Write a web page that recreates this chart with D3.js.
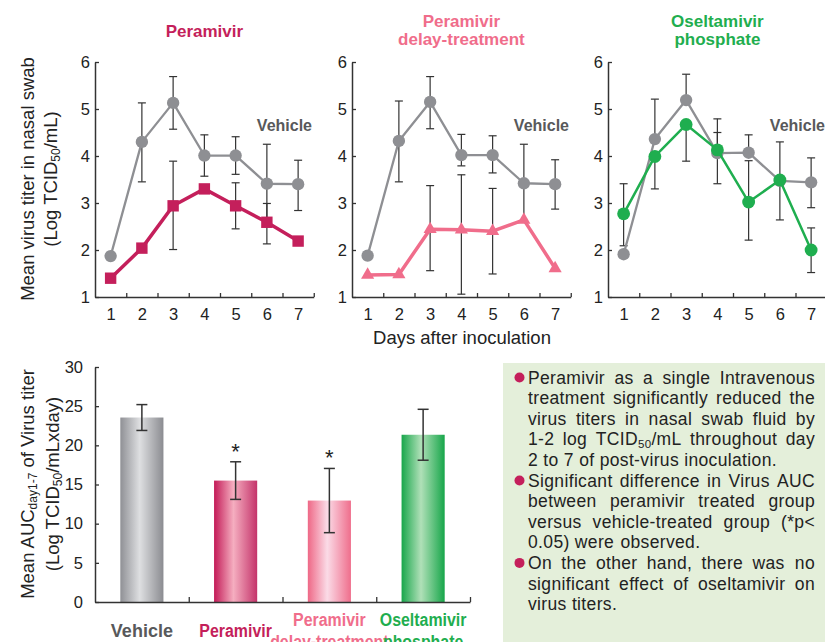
<!DOCTYPE html>
<html><head><meta charset="utf-8">
<script src="https://cdn.jsdelivr.net/npm/d3@7"></script>
<style>
body{margin:0;background:#fff;}
svg{display:block;font-family:"Liberation Sans",Arial,sans-serif;}
</style></head>
<body>
<svg id="c" width="825" height="642"></svg>
<script>
// ---------- DATA ----------
const days = [1, 2, 3, 4, 5, 6, 7];
const yTicks = [1, 2, 3, 4, 5, 6];

// Panel 1 : Peramivir
const vehicle1   = [1.87, 4.30, 5.13, 4.01, 4.01, 3.41, 3.40];
const vehicle1Lo = [null, 3.45, 4.57, 3.57, 3.61, 2.59, 2.84];
const vehicle1Hi = [null, 5.13, 5.69, 4.45, 4.41, 4.25, 3.91];
const peramivir   = [1.40, 2.04, 2.94, 3.30, 2.94, 2.59, 2.19];
const peramivirLo = [null, null, 2.01, null, 2.45, 2.13, null];
const peramivirHi = [null, null, 3.89, null, 3.43, 2.99, null];

// Panel 2 : Peramivir delay-treatment
const vehicle2   = [1.88, 4.32, 5.15, 4.02, 4.02, 3.42, 3.40];
const vehicle2Lo = [null, 3.45, 4.58, 3.79, 3.64, 2.62, 2.87];
const vehicle2Hi = [null, 5.17, 5.69, 4.46, 4.43, 4.25, 3.92];
const delay   = [1.47, 1.48, 2.44, 2.43, 2.40, 2.64, 1.61];
const delayLo = [null, null, 1.56, 1.06, 1.49, null, null];
const delayHi = [null, null, 3.37, 3.60, 3.31, null, null];

// Panel 3 : Oseltamivir phosphate
const vehicle3   = [1.91, 4.36, 5.19, 4.06, 4.07, 3.47, 3.44];
const vehicle3Lo = [null, null, null, null, null, 2.64, 2.90];
const vehicle3Hi = [null, 5.21, 5.74, 4.50, 4.45, 4.30, 3.96];
const oseltamivir   = [2.77, 3.99, 4.67, 4.13, 3.02, 3.49, 2.00];
const oseltamivirLo = [2.09, 3.30, 3.89, 3.41, 2.21, null, 1.52];
const oseltamivirHi = [3.41, null, null, 4.79, 3.90, null, 2.47];

// Bar chart : AUC day1-7
const barCategories = ["Vehicle", "Peramivir", "Peramivir delay-treatment", "Oseltamivir phosphate"];
const barValues = [23.55, 15.5, 12.95, 21.35];
const barErr    = [1.65, 2.4, 4.1, 3.25];
const barSignif = [false, true, true, false];
const barTicks  = [0, 5, 10, 15, 20, 25, 30];

// ---------- STYLE ----------
const C = {
  gray: "#8e8f93", crimson: "#c41f5b", pink: "#f06d8b", green: "#1fae4f",
  axis: "#333", err: "#333", vehLabel: "#58595b"
};

const svg = d3.select("#c");
const defs = svg.append("defs");

// ---------- LINE PANELS ----------
const yLine = d3.scaleLinear().domain([1, 6]).range([297, 62]);

function styleAxis(a, fs) {
  a.attr("font-size", fs).attr("font-family", "Liberation Sans, Arial, sans-serif");
  a.selectAll("path.domain").attr("stroke", C.axis).attr("stroke-width", 1.5);
  a.selectAll(".tick line").attr("stroke", C.axis).attr("stroke-width", 1.3);
  a.selectAll("text").attr("fill", "#222").style("font-size", fs + "px");
}

function drawPanel(ax, titleLines, titleColor, series) {
  const x = d3.scaleLinear().domain([0.5, 7.5]).range([ax, ax + 218.75]);
  const g = svg.append("g");

  // axes
  const ya = g.append("g").attr("transform", `translate(${ax},0)`)
    .call(d3.axisLeft(yLine).tickValues(yTicks).tickSizeInner(-4).tickSizeOuter(0).tickPadding(5).tickFormat(d3.format("d")));
  const xa = g.append("g").attr("transform", `translate(0,297)`)
    .call(d3.axisBottom(x).tickValues([1.5, 2.5, 3.5, 4.5, 5.5, 6.5, 7.5]).tickSizeInner(-4).tickSizeOuter(0).tickFormat(""));
  const xl = g.append("g").attr("transform", `translate(0,297)`)
    .call(d3.axisBottom(x).tickValues(days).tickSize(0).tickPadding(11).tickFormat(d3.format("d")));
  xl.select(".domain").remove();
  [ya, xa, xl].forEach(a => styleAxis(a, 16.5));

  // title
  const cx = ax + 109.4;
  const tb = titleLines.length === 1 ? [37] : [26.5, 44.5];
  titleLines.forEach((t, i) => {
    g.append("text").attr("x", cx).attr("y", tb[i]).attr("text-anchor", "middle")
      .attr("font-weight", "bold").attr("font-size", 17).attr("fill", titleColor).text(t);
  });

  // Vehicle label
  g.append("text").attr("x", ax + 217).attr("y", 131).attr("text-anchor", "end")
    .attr("font-weight", "bold").attr("font-size", 16).attr("fill", C.vehLabel).text("Vehicle");

  // error bars (drawn first)
  series.forEach(s => {
    s.values.forEach((v, i) => {
      [s.lo[i], s.hi[i]].forEach(b => {
        if (b == null) return;
        g.append("line").attr("x1", x(days[i])).attr("x2", x(days[i]))
          .attr("y1", yLine(v)).attr("y2", yLine(b)).attr("stroke", C.err).attr("stroke-width", 1.2);
        g.append("line").attr("x1", x(days[i]) - 4).attr("x2", x(days[i]) + 4)
          .attr("y1", yLine(b)).attr("y2", yLine(b)).attr("stroke", C.err).attr("stroke-width", 1.2);
      });
    });
  });

  // lines + markers
  series.forEach(s => {
    const pts = s.values.map((v, i) => [x(days[i]), yLine(v)]);
    g.append("path").attr("d", d3.line()(pts)).attr("fill", "none")
      .attr("stroke", s.color).attr("stroke-width", s.width).attr("stroke-linejoin", "round");
    const sym = d3.symbol().type(s.shape).size(s.size);
    g.selectAll(null).data(pts).enter().append("path")
      .attr("transform", d => `translate(${d[0]},${d[1]})`)
      .attr("d", sym).attr("fill", s.color);
  });
}

drawPanel(95, ["Peramivir"], C.crimson, [
  {values: vehicle1, lo: vehicle1Lo, hi: vehicle1Hi, color: C.gray, width: 2.3, shape: d3.symbolCircle, size: 120},
  {values: peramivir, lo: peramivirLo, hi: peramivirHi, color: C.crimson, width: 3.5, shape: d3.symbolSquare, size: 130}
]);
drawPanel(352, ["Peramivir", "delay-treatment"], C.pink, [
  {values: vehicle2, lo: vehicle2Lo, hi: vehicle2Hi, color: C.gray, width: 2.3, shape: d3.symbolCircle, size: 120},
  {values: delay, lo: delayLo, hi: delayHi, color: C.pink, width: 3.5, shape: d3.symbolTriangle, size: 75}
]);
drawPanel(608, ["Oseltamivir", "phosphate"], C.green, [
  {values: vehicle3, lo: vehicle3Lo, hi: vehicle3Hi, color: C.gray, width: 2.3, shape: d3.symbolCircle, size: 120},
  {values: oseltamivir, lo: oseltamivirLo, hi: oseltamivirHi, color: C.green, width: 2.5, shape: d3.symbolCircle, size: 130}
]);

// Line chart axis titles
svg.append("text").attr("transform", "translate(34,179) rotate(-90)")
  .attr("text-anchor", "middle").attr("font-size", 18.5).attr("fill", "#222")
  .text("Mean virus titer in nasal swab");
const yl2 = svg.append("text").attr("transform", "translate(57,179) rotate(-90)")
  .attr("text-anchor", "middle").attr("font-size", 18.5).attr("fill", "#222");
yl2.append("tspan").text("(Log TCID");
yl2.append("tspan").attr("font-size", 12).attr("dy", 3).text("50");
yl2.append("tspan").attr("dy", -3).text("/mL)");
svg.append("text").attr("x", 462).attr("y", 344).attr("text-anchor", "middle")
  .attr("font-size", 18.5).attr("fill", "#222").text("Days after inoculation");

// ---------- BAR CHART ----------
const xb = d3.scaleBand().domain(barCategories).range([95, 470]).paddingInner(0.54).paddingOuter(0.27);
const yb = d3.scaleLinear().domain([0, 30]).range([602, 367]);
const barColors = [
  ["#8f9095", "#dedfe1", "#8b8c91"],
  ["#c31a57", "#f5aec0", "#c4336a"],
  ["#ee6886", "#fbdbe7", "#ef6e8c"],
  ["#18a64b", "#b0e0b8", "#17a64a"]
];
const labelColors = ["#58595b", C.crimson, C.pink, C.green];
barColors.forEach((c, i) => {
  const lg = defs.append("linearGradient").attr("id", "bg" + i).attr("x1", 0).attr("x2", 1).attr("y1", 0).attr("y2", 0);
  lg.append("stop").attr("offset", "0%").attr("stop-color", c[0]);
  lg.append("stop").attr("offset", "45%").attr("stop-color", c[1]);
  lg.append("stop").attr("offset", "100%").attr("stop-color", c[2]);
});

const bg = svg.append("g");
bg.selectAll("rect.bar").data(barCategories).enter().append("rect")
  .attr("x", d => xb(d)).attr("width", xb.bandwidth())
  .attr("y", (d, i) => yb(barValues[i])).attr("height", (d, i) => yb(0) - yb(barValues[i]))
  .attr("fill", (d, i) => `url(#bg${i})`);

const bya = bg.append("g").attr("transform", "translate(95,0)")
  .call(d3.axisLeft(yb).tickValues(barTicks).tickSizeInner(-4).tickSizeOuter(0).tickPadding(12));
const bxa = bg.append("g").attr("transform", "translate(0,602)")
  .call(d3.axisBottom(d3.scaleLinear().domain([0, 4]).range([95, 470])).tickValues([1, 2, 3, 4]).tickSizeInner(-5).tickSizeOuter(0).tickFormat(""));
[bya, bxa].forEach(a => styleAxis(a, 16.5));

barCategories.forEach((d, i) => {
  const cx = xb(d) + xb.bandwidth() / 2;
  const hi = yb(barValues[i] + barErr[i]), lo = yb(barValues[i] - barErr[i]);
  bg.append("line").attr("x1", cx).attr("x2", cx).attr("y1", hi).attr("y2", lo).attr("stroke", C.err).attr("stroke-width", 1.5);
  [hi, lo].forEach(yy => bg.append("line").attr("x1", cx - 5.5).attr("x2", cx + 5.5).attr("y1", yy).attr("y2", yy)
    .attr("stroke", C.err).attr("stroke-width", 1.5));
  if (barSignif[i]) {
    bg.append("text").attr("x", cx).attr("y", hi - 3).attr("text-anchor", "middle")
      .attr("font-size", 22).attr("fill", "#222").text("*");
  }
});

// category labels (condensed bold)
const catLabels = [["Vehicle"], ["Peramivir"], ["Peramivir", "delay-treatment"], ["Oseltamivir", "phosphate"]];
const catScaleX = [1, 0.86, 0.86, 0.86];
catLabels.forEach((lines, i) => {
  const cx = xb(barCategories[i]) + xb.bandwidth() / 2;
  const ys = lines.length === 1 ? [637] : [626, 648];
  lines.forEach((t, j) => {
    bg.append("text").attr("transform", `translate(${cx},${ys[j]}) scale(${catScaleX[i]},1)`)
      .attr("text-anchor", "middle")
      .attr("font-weight", "bold").attr("font-size", i === 0 ? 18 : 18.5)
      .attr("fill", labelColors[i]).text(t);
  });
});

// bar y title
const by1 = svg.append("text").attr("transform", "translate(34,484) rotate(-90)")
  .attr("text-anchor", "middle").attr("font-size", 18.5).attr("fill", "#222");
by1.append("tspan").text("Mean AUC");
by1.append("tspan").attr("font-size", 12).attr("dy", 3).text("day1-7");
by1.append("tspan").attr("dy", -3).text(" of Virus titer");
const by2 = svg.append("text").attr("transform", "translate(59,484) rotate(-90)")
  .attr("text-anchor", "middle").attr("font-size", 18.5).attr("fill", "#222");
by2.append("tspan").text("(Log TCID");
by2.append("tspan").attr("font-size", 12).attr("dy", 3).text("50");
by2.append("tspan").attr("dy", -3).text("/mLxday)");

// ---------- TEXT BOX ----------
const noteLines = [
  {t: "Peramivir as a single Intravenous", bullet: true, just: true},
  {t: "treatment significantly reduced the", just: true},
  {t: "virus titers in nasal swab fluid by", just: true},
  {t: "1-2 log TCID_50_/mL throughout day", just: true},
  {t: "2 to 7 of post-virus inoculation.", just: false},
  {t: "Significant difference in Virus AUC", bullet: true, just: true},
  {t: "between peramivir treated group", just: true},
  {t: "versus vehicle-treated group (*p<", just: true},
  {t: "0.05) were observed.", just: false},
  {t: "On the other hand, there was no", bullet: true, just: true},
  {t: "significant effect of oseltamivir on", just: true},
  {t: "virus titers.", just: false}
];
const box = svg.append("g");
box.append("rect").attr("x", 503).attr("y", 363).attr("width", 330).attr("height", 290).attr("fill", "#e4efda");
const tx0 = 528, tx1 = 815, fs = 17.5, ls = 0.35;
noteLines.forEach((ln, i) => {
  const yy = 383.5 + i * 20.6;
  if (ln.bullet) box.append("circle").attr("cx", 519.5).attr("cy", yy - 6).attr("r", 5).attr("fill", C.crimson);
  const words = ln.t.split(" ");
  const nodes = words.map(w => {
    const t = box.append("text").attr("y", yy).attr("font-size", fs)
      .attr("letter-spacing", ls).attr("fill", "#222");
    const parts = w.split("_");
    parts.forEach((p, k) => {
      if (!p) return;
      if (k % 2 === 1) t.append("tspan").attr("font-size", 11.5).attr("dy", 2.5).text(p);
      else t.append("tspan").attr("dy", k > 0 ? -2.5 : 0).text(p);
    });
    return t;
  });
  const widths = nodes.map(n => n.node().getBBox().width);
  const total = d3.sum(widths);
  const spaceW = fs * 0.278 + ls;
  const gap = ln.just && words.length > 1 ? (tx1 - tx0 - total) / (words.length - 1) : spaceW;
  let xx = tx0;
  nodes.forEach((n, k) => { n.attr("x", xx); xx += widths[k] + gap; });
});
</script>
</body></html>
